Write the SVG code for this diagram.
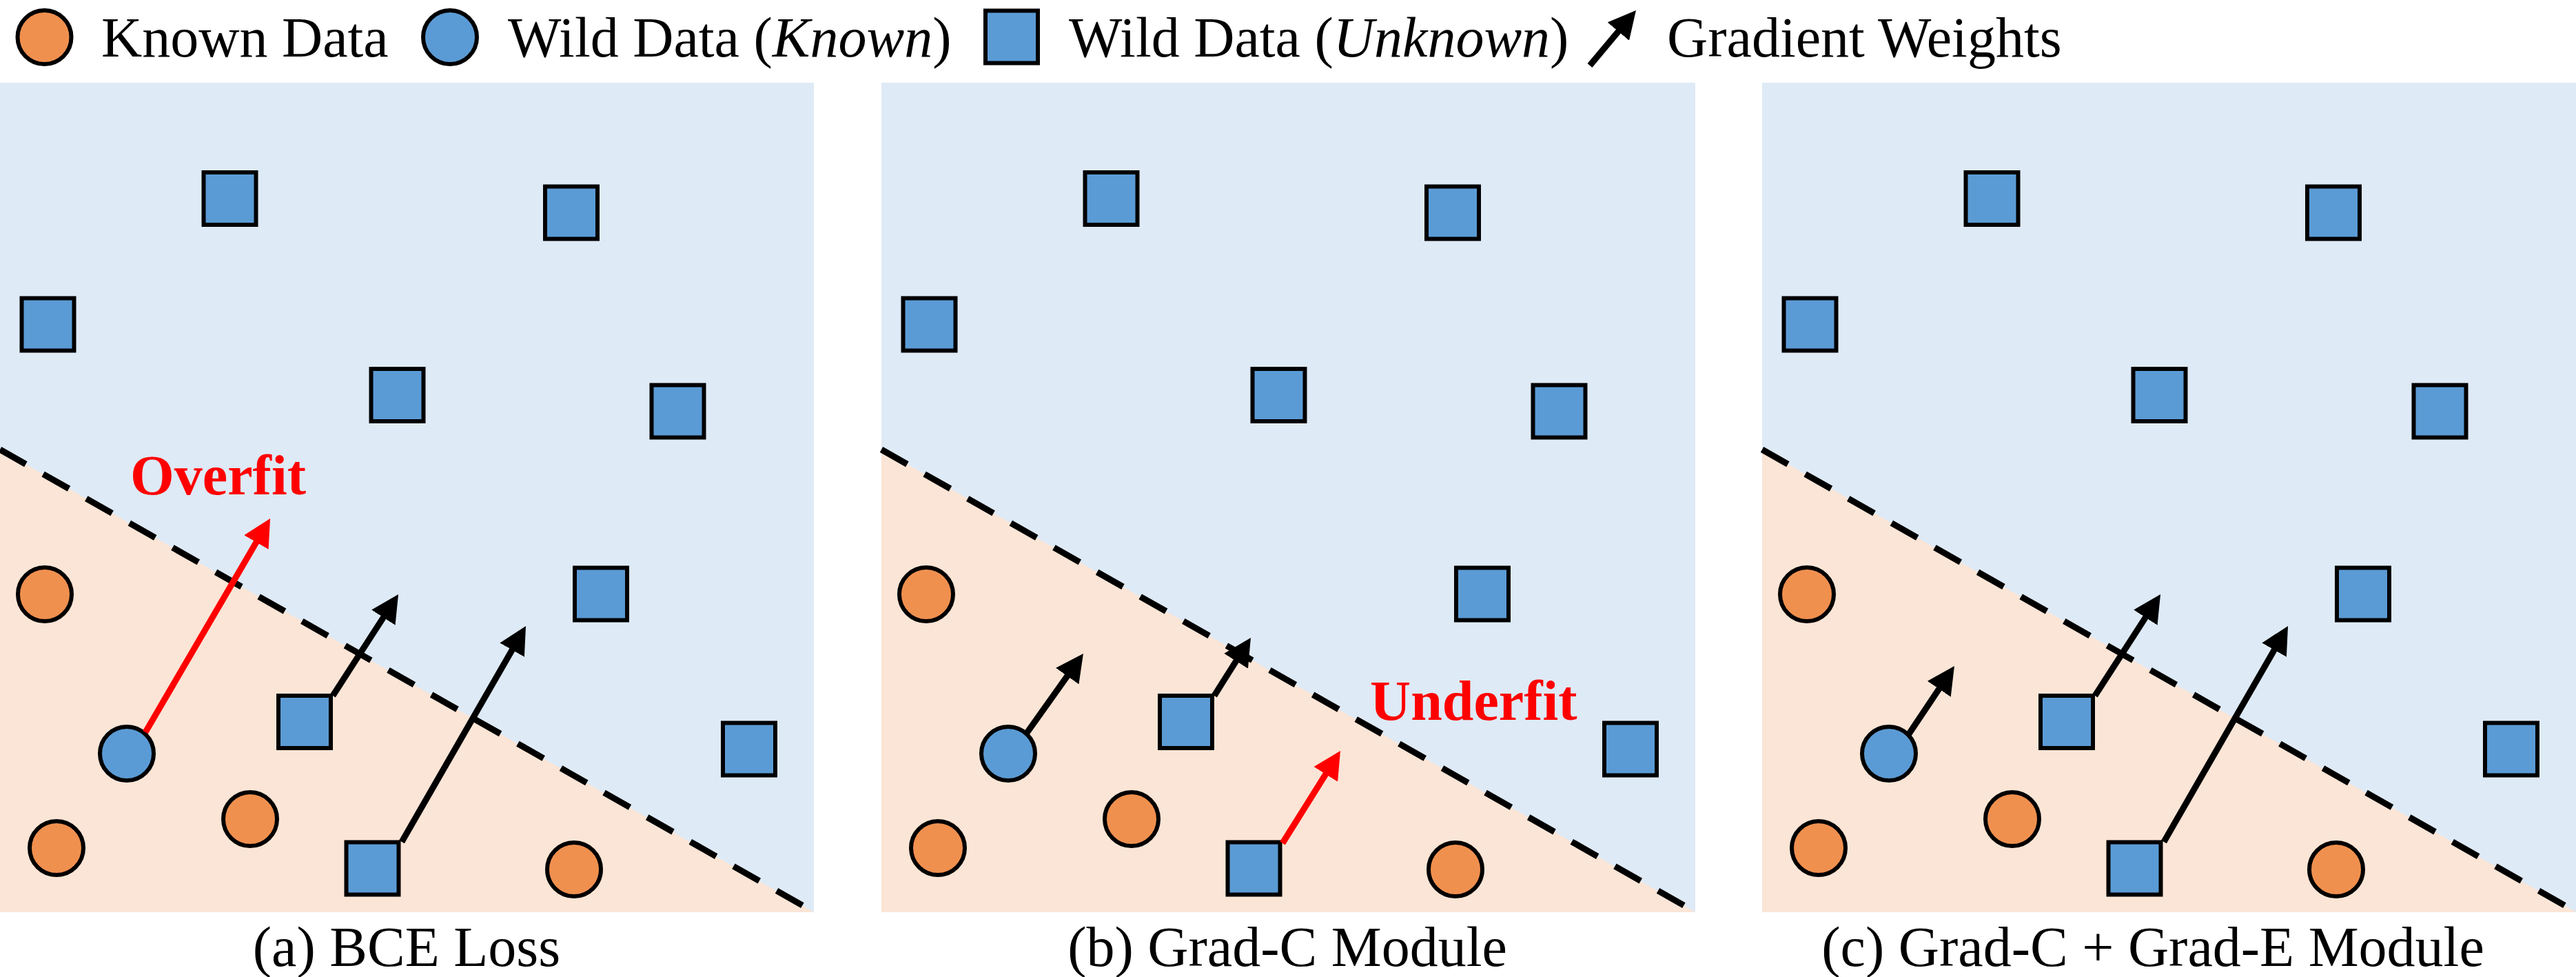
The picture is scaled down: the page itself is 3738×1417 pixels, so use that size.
<svg xmlns="http://www.w3.org/2000/svg" width="3738" height="1417" viewBox="0 0 3738 1417">
<style>
.txt{font-family:"Liberation Serif","Times New Roman",serif;font-size:82px;fill:#000}
.it{font-style:italic}
.lbl{font-family:"Liberation Serif","Times New Roman",serif;font-size:82px;font-weight:bold;fill:#FF0000}
.cap{font-family:"Liberation Serif","Times New Roman",serif;font-size:82px;fill:#000;text-anchor:middle}
.bgb{fill:#DEEAF6}
.bgp{fill:#FBE5D6}
.sep{stroke:#000;stroke-width:9;stroke-dasharray:43 29;fill:none}
.sq{fill:#5B9BD5;stroke:#000;stroke-width:6}
.kc{fill:#F0904F;stroke:#000;stroke-width:6}
.wc{fill:#5B9BD5;stroke:#000;stroke-width:6}
.ab{stroke:#000;stroke-width:9;fill:none;marker-end:url(#hb)}
.ar{stroke:#FF0000;stroke-width:9;fill:none;marker-end:url(#hr)}
</style>
<defs>
<marker id="hb" markerUnits="userSpaceOnUse" viewBox="0 0 40 41" markerWidth="40" markerHeight="41" refX="2" refY="20.5" orient="auto"><path d="M0,0 L40,20.5 L0,41 z" fill="#000"/></marker>
<marker id="hr" markerUnits="userSpaceOnUse" viewBox="0 0 40 41" markerWidth="40" markerHeight="41" refX="2" refY="20.5" orient="auto"><path d="M0,0 L40,20.5 L0,41 z" fill="#FF0000"/></marker>
<g id="bgpanel">
<rect class="bgb" x="0" y="120" width="1181" height="1203"/>
<polygon class="bgp" points="0,652 1181,1323 0,1323"/>
<line class="sep" x1="0" y1="652" x2="1180" y2="1322"/>
</g>
</defs>
<rect width="3738" height="1417" fill="#fff"/>

<g id="legend">
<g id="legend-known"><circle class="kc" cx="64.5" cy="54" r="39"/><text class="txt" x="147" y="82">Known Data</text></g>
<g id="legend-wild-known"><circle class="wc" cx="653" cy="54" r="39"/><text class="txt" x="737" y="82">Wild Data (<tspan class="it">Known</tspan>)</text></g>
<g id="legend-wild-unknown"><rect class="sq" x="1430" y="15.5" width="76" height="76"/><text class="txt" x="1551" y="82">Wild Data (<tspan class="it">Unknown</tspan>)</text></g>
<g id="legend-gradient"><line class="ab" x1="2307" y1="95" x2="2349.6" y2="44.1"/><text class="txt" x="2419" y="82">Gradient Weights</text></g>
</g>

<!-- Panel a -->
<g id="panel-a">
<use href="#bgpanel"/>
<g id="a-nodes">
<rect id="a-sq1" class="sq" x="295.5" y="250" width="76" height="76"/>
<rect id="a-sq2" class="sq" x="791" y="270.5" width="76" height="76"/>
<rect id="a-sq3" class="sq" x="31.5" y="432.5" width="76" height="76"/>
<rect id="a-sq4" class="sq" x="538.5" y="535" width="76" height="76"/>
<rect id="a-sq5" class="sq" x="945.5" y="558.5" width="76" height="76"/>
<rect id="a-sq6" class="sq" x="834" y="823.5" width="76" height="76"/>
<rect id="a-sq7" class="sq" x="404" y="1009" width="76" height="76"/>
<rect id="a-sq8" class="sq" x="502.5" y="1221.5" width="76" height="76"/>
<rect id="a-sq9" class="sq" x="1049" y="1048.5" width="76" height="76"/>
<circle id="a-k1" class="kc" cx="65" cy="862" r="39"/>
<circle id="a-k2" class="kc" cx="82" cy="1230" r="39"/>
<circle id="a-k3" class="kc" cx="363" cy="1188" r="39"/>
<circle id="a-k4" class="kc" cx="833" cy="1261" r="39"/>
<circle id="a-w1" class="wc" cx="184" cy="1093" r="39"/>
</g>
<g id="a-connectors">
<line class="ar" x1="211" y1="1062" x2="372.9" y2="784.8"/>
<line class="ab" x1="483" y1="1009" x2="557.4" y2="893.9"/>
<line class="ab" x1="583" y1="1221" x2="744.1" y2="940.9"/>
</g>
<text class="lbl" x="189" y="717">Overfit</text>
<text class="cap" x="590" y="1401">(a) BCE Loss</text>
</g>

<!-- Panel b -->
<g id="panel-b" transform="translate(1279,0)">
<use href="#bgpanel"/>
<g id="b-nodes">
<rect id="b-sq1" class="sq" x="295.5" y="250" width="76" height="76"/>
<rect id="b-sq2" class="sq" x="791" y="270.5" width="76" height="76"/>
<rect id="b-sq3" class="sq" x="31.5" y="432.5" width="76" height="76"/>
<rect id="b-sq4" class="sq" x="538.5" y="535" width="76" height="76"/>
<rect id="b-sq5" class="sq" x="945.5" y="558.5" width="76" height="76"/>
<rect id="b-sq6" class="sq" x="834" y="823.5" width="76" height="76"/>
<rect id="b-sq7" class="sq" x="404" y="1009" width="76" height="76"/>
<rect id="b-sq8" class="sq" x="502.5" y="1221.5" width="76" height="76"/>
<rect id="b-sq9" class="sq" x="1049" y="1048.5" width="76" height="76"/>
<circle id="b-k1" class="kc" cx="65" cy="862" r="39"/>
<circle id="b-k2" class="kc" cx="82" cy="1230" r="39"/>
<circle id="b-k3" class="kc" cx="363" cy="1188" r="39"/>
<circle id="b-k4" class="kc" cx="833" cy="1261" r="39"/>
<circle id="b-w1" class="wc" cx="184" cy="1093" r="39"/>
</g>
<g id="b-connectors">
<line class="ab" x1="211" y1="1063" x2="270.9" y2="978.9"/>
<line class="ab" x1="483" y1="1009" x2="515.7" y2="957.1"/>
<line class="ar" x1="582" y1="1223" x2="645.8" y2="1121.2"/>
</g>
<text class="lbl" x="709" y="1044">Underfit</text>
<text class="cap" x="589" y="1401">(b) Grad-C Module</text>
</g>

<!-- Panel c -->
<g id="panel-c" transform="translate(2557,0)">
<use href="#bgpanel"/>
<g id="c-nodes">
<rect id="c-sq1" class="sq" x="295.5" y="250" width="76" height="76"/>
<rect id="c-sq2" class="sq" x="791" y="270.5" width="76" height="76"/>
<rect id="c-sq3" class="sq" x="31.5" y="432.5" width="76" height="76"/>
<rect id="c-sq4" class="sq" x="538.5" y="535" width="76" height="76"/>
<rect id="c-sq5" class="sq" x="945.5" y="558.5" width="76" height="76"/>
<rect id="c-sq6" class="sq" x="834" y="823.5" width="76" height="76"/>
<rect id="c-sq7" class="sq" x="404" y="1009" width="76" height="76"/>
<rect id="c-sq8" class="sq" x="502.5" y="1221.5" width="76" height="76"/>
<rect id="c-sq9" class="sq" x="1049" y="1048.5" width="76" height="76"/>
<circle id="c-k1" class="kc" cx="65" cy="862" r="39"/>
<circle id="c-k2" class="kc" cx="82" cy="1230" r="39"/>
<circle id="c-k3" class="kc" cx="363" cy="1188" r="39"/>
<circle id="c-k4" class="kc" cx="833" cy="1261" r="39"/>
<circle id="c-w1" class="wc" cx="184" cy="1093" r="39"/>
</g>
<g id="c-connectors">
<line class="ab" x1="212" y1="1066" x2="257.8" y2="997.6"/>
<line class="ab" x1="483" y1="1009" x2="557.4" y2="893.9"/>
<line class="ab" x1="583" y1="1221" x2="744.1" y2="940.9"/>
</g>
<text class="cap" x="567" y="1401">(c) Grad-C + Grad-E Module</text>
</g>
</svg>
